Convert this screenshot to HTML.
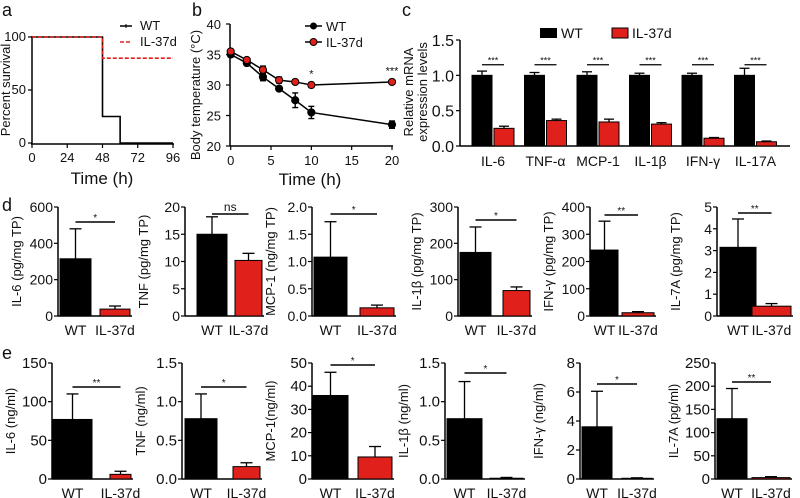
<!DOCTYPE html>
<html><head><meta charset="utf-8"><style>
body{margin:0;background:#fff}
svg{display:block;font-family:"Liberation Sans",Arial,sans-serif}
</style></head><body>
<svg id="fig" width="800" height="498" viewBox="0 0 800 498" xmlns="http://www.w3.org/2000/svg"></svg>
<script>
const NS="http://www.w3.org/2000/svg";
const fig=document.getElementById('fig');
// ---- data ----
const survTimes=[0,48,60,96];
const survWT=[100,25,0,0];
const survIL=[100,80,80,80];
const tempTimes=[0,2,4,6,8,10,20];
const tempWT=[35.0,33.6,31.3,29.4,27.5,25.5,23.5];
const tempWTerr=[0.4,0.4,0.6,0.3,1.2,1.0,0.6];
const tempIL=[35.5,34.1,32.5,30.8,30.5,30.0,30.5];
const tempILerr=[0.3,0.3,0.6,0.5,0.3,0.4,0.3];
const mrnaCats=["IL-6","TNF-α","MCP-1","IL-1β","IFN-γ","IL-17A"];
const mrnaWT=[1.0,1.0,1.0,1.0,1.0,1.0];
const mrnaWTerr=[0.06,0.04,0.05,0.03,0.03,0.1];
const mrnaIL=[0.25,0.36,0.34,0.31,0.11,0.06];
const mrnaILerr=[0.03,0.02,0.04,0.02,0.01,0.01];
const dTitles=["IL-6 (pg/mg TP)","TNF (pg/mg TP)","MCP-1 (ng/mg TP)","IL-1β (pg/mg TP)","IFN-γ (pg/mg TP)","IL-7A (pg/mg TP)"];
const dMax=[600,20,2,300,400,5];
const dTicks=[["0","200","400","600"],["0","5","10","15","20"],["0.0","0.5","1.0","1.5","2.0"],["0","100","200","300"],["0","100","200","300","400"],["0","1","2","3","4","5"]];
const dWT=[315,15,1.08,175,242,3.15];
const dWTerr=[480,18.2,1.73,245,348,4.45];
const dIL=[38,10.2,0.15,70,12,0.45];
const dILerr=[55,11.5,0.2,80,16,0.57];
const dSig=["*","ns","*","*","**","**"];
const eTitles=["IL-6 (ng/ml)","TNF (ng/ml)","MCP-1(ng/ml)","IL-1β (ng/ml)","IFN-γ (ng/ml)","IL-7A (pg/ml)"];
const eMax=[150,1.5,50,1.5,8,250];
const eTicks=[["0","50","100","150"],["0.0","0.5","1.0","1.5"],["0","10","20","30","40","50"],["0.0","0.5","1.0","1.5"],["0","2","4","6","8"],["0","50","100","150","200","250"]];
const eWT=[77,0.78,36,0.78,3.6,130];
const eWTerr=[110,1.1,46,1.26,6.05,195];
const eIL=[6,0.16,9.5,0.01,0.05,3];
const eILerr=[10,0.21,14,0.02,0.08,5];
const eSig=["**","*","*","*","*","**"];
// ---- layout (not data) ----
const dLay=[[58,60,91,100,130,222],[185,197,227,235,262,214],[312,314,347,360,394,214],[458,460,491,503,530,220],[590,591,618,622,654,215],[717,720,756,752,791,213]];
const eLay=[[52,53,92,110,131,387],[182,185,217,233,260,387],[312,313,348,358,392,365],[445,447,482,490,523,373],[580,582,612,622,652,384],[715,717,747,752,790,382]];

function el(tag,attrs,parent,txt){const e=document.createElementNS(NS,tag);for(const k in attrs)e.setAttribute(k,attrs[k]);if(txt!==undefined)e.textContent=txt;(parent||fig).appendChild(e);return e;}
function line(x1,y1,x2,y2,p,c,w,extra){return el('line',Object.assign({x1,y1,x2,y2,stroke:c||'#000','stroke-width':w||1.5},extra||{}),p);}
function text(x,y,s,p,o){o=o||{};return el('text',Object.assign({x,y,'font-size':o.fs||13,'text-anchor':o.a||'middle',fill:'#111'},o.extra||{}),p,s);}

// panel letters
[["a",2,16],["b",192,16],["c",402,16],["d",2,211],["e",2,359]].forEach(([l,x,y])=>{const t=text(x,y,l,null,{fs:18,a:'start'});});

// ---- panel a ----
(function(){
const g=el('g',{});
const X=v=>32+v/96*141, Y=v=>143-v/100*106;
line(32,36,32,144,g);line(31,144,174,144,g);
[0,24,48,72,96].forEach(v=>{line(X(v),144,X(v),148,g,'#000',1.2);text(X(v),162,String(v),g);});
[0,50,100].forEach(v=>{line(28,Y(v),32,Y(v),g,'#000',1.2);text(26,Y(v)+4,String(v),g,{a:'end'});});
const yt=text(10,90,'Percent survival',g,{fs:13,extra:{transform:'rotate(-90 10 90)'}});
const xt=text(102,184,'Time (h)',g,{fs:17});
function step2(times,vals){let d='M'+X(times[0])+','+Y(vals[0]);for(let i=1;i<times.length;i++){d+='H'+X(times[i])+'V'+Y(vals[i]);}return d;}
const p1=el('path',{d:step2(survTimes,survWT),fill:'none',stroke:'#000','stroke-width':1.6},g);

const p2=el('path',{d:step2(survTimes,survIL),fill:'none',stroke:'#e0201b','stroke-width':1.6,'stroke-dasharray':'4 2'},g);

line(120,26,132,26,g,'#000',1.5);line(126,24,126,28,g,'#000',1);text(140,30,'WT',g,{a:'start'});
line(120,42,132,42,g,'#e0201b',1.5,{'stroke-dasharray':'4 2'});text(140,46,'IL-37d',g,{a:'start'});
})();

// ---- panel b ----
(function(){
const g=el('g',{});
const X=v=>230.7+v/20*161.3, Y=v=>146-(v-20)/20*122;
line(230,24,230,146,g);line(230,146,393,146,g);
[0,5,10,15,20].forEach(v=>{line(X(v),146,X(v),150,g,'#000',1.2);text(X(v),165,String(v),g);});
[20,25,30,35,40].forEach(v=>{line(226,Y(v),230,Y(v),g,'#000',1.2);text(221,Y(v)+5,String(v),g,{a:'end'});});
text(200,95,'Body temperature (°C)',g,{fs:13,extra:{transform:'rotate(-90 200 95)'}});
text(310,185,'Time (h)',g,{fs:17});
function series(vals,errs,fill,name){
 const pts=tempTimes.map((t,i)=>X(t)+','+Y(vals[i])).join(' ');
 const pl=el('polyline',{points:pts,fill:'none',stroke:'#000','stroke-width':1.5},g);
 tempTimes.forEach((t,i)=>{const x=X(t);line(x,Y(vals[i]-errs[i]),x,Y(vals[i]+errs[i]),g,'#000',1.4);line(x-3,Y(vals[i]+errs[i]),x+3,Y(vals[i]+errs[i]),g,'#000',1.4);line(x-3,Y(vals[i]-errs[i]),x+3,Y(vals[i]-errs[i]),g,'#000',1.4);
 const c=el('circle',{cx:x,cy:Y(vals[i]),r:3.6,fill:fill,stroke:'#000','stroke-width':1},g);});
}
series(tempWT,tempWTerr,'#000','wt');series(tempIL,tempILerr,'#e0201b','il37d');
text(X(10),Y(31.2),'*',g,{fs:11});text(X(20),Y(31.7),'***',g,{fs:11});
line(305,26,322,26,g);el('circle',{cx:313.5,cy:26,r:3.5,fill:'#000'},g);text(326,31,'WT',g,{a:'start'});
line(305,42,322,42,g);el('circle',{cx:313.5,cy:42,r:3.5,fill:'#e0201b',stroke:'#000'},g);text(326,47,'IL-37d',g,{a:'start'});
})();

// ---- panel c ----
(function(){
const g=el('g',{});
const Y=v=>146-v/1.5*106, cx=i=>493+i*52.5;
line(460,40,460,146,g);line(460,146,790,146,g);
["0.0","0.5","1.0","1.5"].forEach((s,i)=>{const v=i*0.5;line(456,Y(v),460,Y(v),g,'#000',1.2);text(454,Y(v)+6,s,g,{fs:16,a:'end'});});
text(413,92,'Relative mRNA',g,{fs:13,extra:{transform:'rotate(-90 413 92)'}});
text(427,92,'expression levels',g,{fs:13,extra:{transform:'rotate(-90 427 92)'}});
mrnaCats.forEach((c,i)=>{
 const x=cx(i);
 [[mrnaWT[i],mrnaWTerr[i],x-21,'#000','wt'],[mrnaIL[i],mrnaILerr[i],x+1,'#e0201b','il37d']].forEach(([v,e,bx,f,n])=>{
  const r=el('rect',{x:bx,y:Y(v),width:20,height:146-Y(v),fill:f,stroke:'#000','stroke-width':1},g);
  line(bx+10,Y(v),bx+10,Y(v+e),g,'#000',1.3);line(bx+5,Y(v+e),bx+15,Y(v+e),g,'#000',1.3);});
 line(x-11,Y(1.15),x+11,Y(1.15),g,'#000',1.2);text(x,Y(1.15)-1,'***',g,{fs:9});
 text(x,166,c,g,{fs:14});
});
el('rect',{x:540,y:28,width:17,height:10,fill:'#000'},g);text(561,38,'WT',g,{fs:14,a:'start'});
el('rect',{x:612,y:28,width:16,height:10,fill:'#e0201b',stroke:'#000'},g);text(632,38,'IL-37d',g,{fs:14,a:'start'});
})();

// ---- rows d and e ----
function barPanel(row,i,top,bot,lay,title,max,ticks,wt,wte,il,ile,sig,tfs){
 const [ax,w1,w2,r1,r2,sy]=lay;
 const g=el('g',{});
 const Y=v=>bot-v/max*(bot-top);
 line(ax,top,ax,bot,g);line(ax,bot,r2+2,bot,g);
 ticks.forEach((s,k)=>{const v=k*max/(ticks.length-1);line(ax-4,Y(v),ax,Y(v),g,'#000',1.2);text(ax-5,Y(v)+5,s,g,{fs:tfs,a:'end'});});
 const tx=ax-37;text(tx,(top+bot)/2,title,g,{fs:13,extra:{transform:'rotate(-90 '+tx+' '+(top+bot)/2+')'}});
 [[wt,wte,w1,w2,'#000','wt'],[il,ile,r1,r2,'#e0201b','il37d']].forEach(([v,e,a,b,f,n])=>{
  const r=el('rect',{x:a,y:Y(v),width:b-a,height:bot-Y(v),fill:f,stroke:'#000','stroke-width':1},g);
  const m=(a+b)/2;line(m,Y(v),m,Y(e),g,'#000',1.3);line(m-6,Y(e),m+6,Y(e),g,'#000',1.3);
  text(m,bot+19,n==='wt'?'WT':'IL-37d',g,{fs:14});});
 const m1=(w1+w2)/2,m2=(r1+r2)/2;
 line(m1,sy,m2,sy,g,'#000',1.4);text((m1+m2)/2,sy-(sig==='ns'?3:1),sig,g,{fs:sig==='ns'?12:10});
}
for(let i=0;i<6;i++){
 barPanel('d',i,207,316,dLay[i],dTitles[i],dMax[i],dTicks[i],dWT[i],dWTerr[i],dIL[i],dILerr[i],dSig[i],14);
 barPanel('e',i,363,479,eLay[i],eTitles[i],eMax[i],eTicks[i],eWT[i],eWTerr[i],eIL[i],eILerr[i],eSig[i],15);
}
</script>
</body></html>
